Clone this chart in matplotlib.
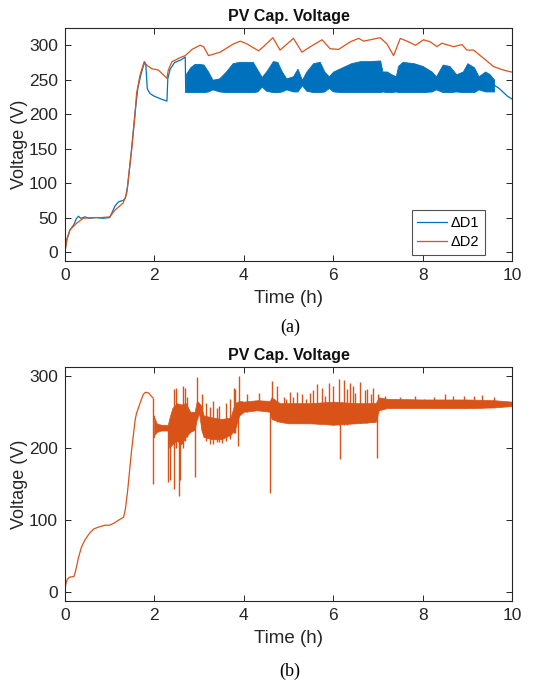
import matplotlib
matplotlib.use("Agg")
import matplotlib.pyplot as plt

plt.rcParams['font.family'] = ['Liberation Sans', 'DejaVu Sans']

BLUE = '#0072BD'
ORANGE = '#D95319'
GRAY = '#262626'

# ---------------- (a) data ----------------
# Delta D2 (orange)
t_d2 = [0, 0.04, 0.11, 0.26, 0.41, 0.6, 0.8, 1.0, 1.12, 1.3, 1.38, 1.49, 1.57, 1.6, 1.68, 1.77,
        1.83, 1.94, 2.09, 2.28, 2.31, 2.39, 2.57, 2.69, 2.84, 3.02, 3.1, 3.21, 3.47, 3.77, 3.92,
        4.07, 4.33, 4.44, 4.65, 4.81, 5.11, 5.3, 5.49, 5.75, 5.93, 6.12, 6.38, 6.57, 6.68, 6.83,
        7.05, 7.2, 7.35, 7.5, 7.65, 7.84, 8.02, 8.17, 8.32, 8.43, 8.69, 8.88, 8.99, 9.14, 9.29,
        9.59, 9.81, 10.0]
v_d2 = [0, 18, 32, 42, 49, 50, 50, 51, 61, 71, 85, 148, 201, 230, 257, 276,
        271, 266, 264, 252, 264, 276, 282, 285, 294, 300, 298, 285, 290, 302, 306,
        302, 292, 298, 311, 293, 310, 290, 298, 308, 295, 294, 305, 310, 306, 308,
        311, 302, 285, 310, 306, 300, 308, 305, 298, 303, 298, 301, 293, 293, 285,
        269, 264, 261]

# Delta D1 (blue): line before the oscillating band
t_d1_pre = [0, 0.04, 0.11, 0.2, 0.25, 0.3, 0.35, 0.45, 0.55, 0.7, 0.85, 1.0, 1.05, 1.12, 1.2,
            1.3, 1.35, 1.4, 1.49, 1.57, 1.63, 1.7, 1.78, 1.81, 1.84, 1.9, 2.0, 2.15, 2.28, 2.3,
            2.35, 2.45, 2.6, 2.69, 2.7]
v_d1_pre = [2, 18, 32, 40, 48, 52, 49, 51, 49, 50, 49, 50, 57, 67, 73,
            75, 78, 95, 150, 205, 238, 258, 276, 270, 237, 230, 226, 222, 219, 252,
            265, 275, 279, 283, 232]
# oscillating band envelope
t_d1_band = [2.7, 2.8, 2.9, 3.0, 3.1, 3.2, 3.3, 3.45, 3.6, 3.75, 3.9, 4.0, 4.2, 4.3, 4.4, 4.5,
             4.65, 4.75, 4.85, 4.95, 5.1, 5.2, 5.3, 5.4, 5.55, 5.7, 5.8, 5.9, 6.0, 6.2, 6.4,
             6.6, 6.8, 7.05, 7.1, 7.2, 7.3, 7.4, 7.45, 7.55, 7.8, 8.0, 8.2, 8.3, 8.45, 8.6,
             8.75, 8.9, 9.0, 9.15, 9.25, 9.4, 9.5, 9.6]
hi_d1_band = [258, 268, 273, 273, 272, 262, 250, 252, 262, 274, 276, 276, 276, 265, 254, 262,
              277, 276, 262, 252, 255, 266, 250, 262, 274, 276, 262, 255, 262, 268, 274,
              277, 277, 278, 262, 262, 258, 255, 270, 276, 274, 270, 262, 255, 272, 270,
              258, 262, 274, 268, 255, 262, 258, 250]
lo_d1_band = [232, 232, 232, 232, 232, 233, 236, 233, 232, 232, 232, 232, 232, 233, 240, 234,
              232, 232, 233, 236, 233, 233, 242, 234, 232, 232, 233, 238, 233, 232, 232,
              232, 232, 232, 233, 232, 232, 233, 232, 232, 232, 232, 233, 236, 232, 232,
              233, 232, 232, 232, 236, 233, 233, 233]
# line after the band
t_d1_post = [9.6, 9.7, 9.8, 9.9, 10.0]
v_d1_post = [242, 238, 232, 226, 222]

# ---------------- (b) data ----------------
t_b_line = [0, 0.02, 0.05, 0.1, 0.2, 0.23, 0.26, 0.3, 0.37, 0.45, 0.55, 0.65, 0.78, 0.9, 1.0,
            1.1, 1.2, 1.31, 1.35, 1.4, 1.49, 1.57, 1.6, 1.68, 1.75, 1.8, 1.87, 1.94, 1.97]
v_b_line = [3, 12, 18, 21, 22, 28, 36, 48, 63, 73, 82, 88, 91, 93, 93,
            96, 100, 104, 115, 140, 197, 239, 248, 262, 274, 277, 276, 271, 269]

t_b_band = [1.99, 2.0, 2.05, 2.15, 2.3, 2.33, 2.4, 2.5, 2.6, 2.7, 2.8, 2.9, 2.95, 3.0, 3.05,
            3.1, 3.3, 3.5, 3.7, 3.8, 3.9, 4.0, 4.3, 4.58, 4.62, 4.8, 5.0, 5.5, 6.0, 6.5,
            6.95, 7.02, 7.2, 8.0, 9.0, 9.6, 10.0]
lo_b_band = [215, 218, 222, 224, 224, 200, 205, 210, 205, 215, 222, 225, 240, 248, 225,
             215, 212, 212, 218, 225, 245, 250, 252, 250, 240, 236, 234, 234, 232, 234,
             236, 252, 255, 255, 255, 256, 258]
hi_b_band = [245, 242, 234, 232, 232, 240, 255, 262, 260, 262, 250, 250, 265, 262, 258,
             245, 242, 240, 242, 262, 265, 264, 266, 265, 270, 262, 262, 262, 264, 262,
             262, 270, 268, 267, 267, 266, 264]

spike_t = [1.97, 2.31, 2.35, 2.43, 2.44, 2.49, 2.54, 2.57, 2.63, 2.69, 2.74, 2.91, 2.95, 3.06,
           3.15, 3.25, 3.3, 3.4, 3.45, 3.51, 3.6, 3.7, 3.77, 3.81, 3.86, 3.9, 4.07, 4.33,
           4.59, 4.63, 4.74, 4.89, 4.95, 5.04, 5.1, 5.19, 5.3, 5.4, 5.49, 5.55, 5.63, 5.75,
           5.82, 5.9, 6.0, 6.12, 6.16, 6.23, 6.3, 6.38, 6.45, 6.49, 6.6, 6.7, 6.75, 6.84,
           6.9, 6.98, 7.01, 7.16, 7.5, 7.84, 8.02, 8.25, 8.51, 8.69, 8.92, 9.14, 9.33, 9.59]
spike_lo = [150, 153, 156, 200, 143, 200, 133, 156, 200, 210, 215, 160, 240, 225,
            210, 205, 205, 208, 208, 207, 210, 212, 220, 220, 203, 245, 250, 252,
            137, 240, 236, 236, 236, 234, 234, 234, 234, 234, 234, 234, 234, 234,
            234, 234, 232, 232, 184, 232, 232, 234, 234, 234, 234, 234, 234, 236,
            236, 186, 252, 255, 255, 255, 255, 255, 255, 255, 255, 255, 255, 256]
spike_hi = [269, 232, 235, 281, 240, 283, 250, 260, 285, 283, 271, 245, 298, 274,
            262, 257, 265, 255, 258, 240, 262, 268, 283, 281, 250, 300, 274, 276,
            262, 292, 285, 271, 268, 278, 270, 278, 274, 268, 276, 280, 288, 283,
            272, 290, 285, 295, 250, 294, 282, 290, 286, 276, 291, 280, 281, 274,
            283, 262, 274, 272, 270, 272, 268, 270, 274, 272, 272, 272, 273, 270]

x_ticks = [0, 2, 4, 6, 8, 10]
y_ticks_a = [0, 50, 100, 150, 200, 250, 300]
y_ticks_b = [0, 100, 200, 300]

fig = plt.figure(figsize=(5.39, 6.84), dpi=100)
ax1 = fig.add_axes([0.1206, 0.6184, 0.8294, 0.3406])
ax2 = fig.add_axes([0.1206, 0.1213, 0.8294, 0.3422])


def style(ax, yticks, ylim):
    ax.set_xlim(0, 10)
    ax.set_ylim(*ylim)
    ax.set_xticks(x_ticks)
    ax.set_yticks(yticks)
    ax.tick_params(direction='in', length=4, width=0.7, top=True, right=True,
                   labelsize=12.5, colors=GRAY, pad=5)
    for s in ax.spines.values():
        s.set_color(GRAY)
        s.set_linewidth(0.8)
    ax.set_xlabel('Time (h)', fontsize=13.5, color=GRAY, labelpad=5)
    ax.set_ylabel('Voltage (V)', fontsize=13, color=GRAY, labelpad=1)
    ax.set_title('PV Cap. Voltage', fontsize=11.5, fontweight='bold', color='#111111', pad=5)


# (a)
l1, = ax1.plot(t_d1_pre, v_d1_pre, color=BLUE, lw=0.9, label='ΔD1')
ax1.fill_between(t_d1_band, lo_d1_band, hi_d1_band, color=BLUE, lw=0.6, edgecolor=BLUE)
ax1.plot(t_d1_post, v_d1_post, color=BLUE, lw=0.9)
l2, = ax1.plot(t_d2, v_d2, color=ORANGE, lw=0.9, label='ΔD2')
style(ax1, y_ticks_a, (-13, 325))
leg = ax1.legend(handles=[l1, l2], loc='lower right', bbox_to_anchor=(0.94, 0.026),
                 borderaxespad=0, fontsize=10.5, frameon=True, fancybox=False,
                 handlelength=2.0, handletextpad=0.3, borderpad=0.4, labelspacing=0.35)
leg.get_frame().set_edgecolor(GRAY)
leg.get_frame().set_linewidth(0.8)

# (b)
ax2.plot(t_b_line, v_b_line, color=ORANGE, lw=0.9)
ax2.fill_between(t_b_band, lo_b_band, hi_b_band, color=ORANGE, lw=0.5, edgecolor=ORANGE)
ax2.vlines(spike_t, spike_lo, spike_hi, color=ORANGE, lw=1.0)
style(ax2, y_ticks_b, (-12, 312))

fig.text(0.538, 0.522, '(a)', ha='center', va='center', fontsize=13,
         family='Liberation Serif', color='black')
fig.text(0.538, 0.018, '(b)', ha='center', va='center', fontsize=13,
         family='Liberation Serif', color='black')

fig.savefig('out.png', dpi=100)
